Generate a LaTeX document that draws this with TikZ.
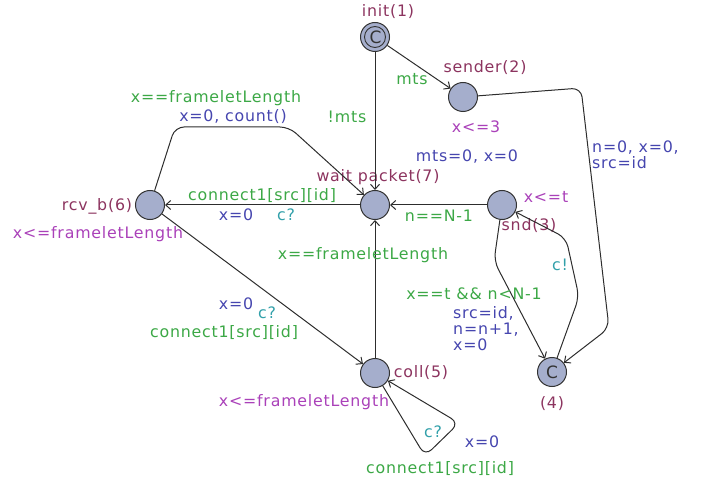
\documentclass[tikz,border=0pt]{standalone}
\usepackage{fontspec}
\setmainfont{DejaVu Sans}[LetterSpace=5]
\usetikzlibrary{arrows.meta}
\definecolor{locname}{RGB}{140,52,95}
\definecolor{inv}{RGB}{170,65,185}
\definecolor{guard}{RGB}{60,168,70}
\definecolor{upd}{RGB}{70,70,175}
\definecolor{syn}{RGB}{50,160,170}
\definecolor{locfill}{RGB}{165,174,204}
\definecolor{edgec}{RGB}{45,45,45}
\tikzset{
  loc/.style={circle,draw=black!80,line width=1pt,fill=locfill,minimum size=29pt,inner sep=0pt},
  edge/.style={draw=edgec,line width=1pt,-{Straight Barb[length=5pt,width=9pt]},rounded corners=9pt},
  txt/.style={font=\fontsize{15.8}{17}\selectfont,inner sep=0pt},
  nm/.style={txt,text=locname},
  iv/.style={txt,text=inv},
  gd/.style={txt,text=guard},
  up/.style={txt,text=upd},
  sy/.style={txt,text=syn},
}
\begin{document}
\begin{tikzpicture}[x=1pt,y=-1pt]
\useasboundingbox (0,0) rectangle (704,481);
% locations
\node[loc] (init) at (375,37) {};
\draw[black!80,line width=0.9pt] (init.center) circle (10.5pt);
\node[txt,font=\fontsize{17}{17}\selectfont,text=black!80] at (375.5,37.5) {C};
\node[loc] (sender) at (463,97) {};
\node[loc] (wait) at (375,205) {};
\node[loc] (snd) at (502,205) {};
\node[loc] (rcv) at (150,205) {};
\node[loc] (coll) at (375,373) {};
\node[loc,font=\fontsize{17}{17}\selectfont,text=black!80] (n4) at (552,372) {C};
% names and invariants
\node[nm] (lbinit) at (388,12) {init(1)};
\node[nm] (lbsender) at (485,68) {sender(2)};
\node[iv] (ivsender) at (476,127) {x<=3};
\node[nm] (lbwait) at (378,177) {wait packet(7)};
\node[iv] (ivsnd) at (546,197) {x<=t};
\node[nm] (lbsnd) at (529,226) {snd(3)};
\node[nm] (lbrcv) at (97,206) {rcv\_b(6)};
\node[iv] (ivrcv) at (98,234) {x<=frameletLength};
\node[nm] (lbcoll) at (421,373) {coll(5)};
\node[iv] (ivcoll) at (304,402) {x<=frameletLength};
\node[nm] (lb4) at (552,404) {(4)};
% edges
\draw[edge] (init) -- (sender);
\node[gd] at (412,79) {mts};
\draw[edge] (init) -- (wait);
\node[gd] at (347,117) {!mts};
\draw[edge] (sender) -- (581,88) -- (609,328) -- (n4);
\node[up,anchor=west] at (592,148) {n=0, x=0,};
\node[up,anchor=west] at (592,163) {src=id};
\draw[edge] (snd) -- (wait);
\node[gd] at (439,216) {n==N-1};
\node[up] at (467,157) {mts=0, x=0};
\draw[edge] (wait) -- (rcv);
\node[gd] at (262,196) {connect1[src][id]};
\node[up] at (236,215) {x=0};
\node[sy] at (286,215) {c?};
\draw[edge] (rcv) -- (175,127) -- (289,127) -- (wait);
\node[gd] at (216,98) {x==frameletLength};
\node[up] at (233,117) {x=0, count()};
\draw[edge] (rcv) -- (coll);
\node[up] at (236,304) {x=0};
\node[sy] at (267,313) {c?};
\node[gd] at (224,333) {connect1[src][id]};
\draw[edge] (coll) -- (wait);
\node[gd] at (363,255) {x==frameletLength};
\draw[edge] (coll) -- (425,456) -- (459,423) -- (coll);
\node[sy] at (433,432) {c?};
\node[up] at (482,442) {x=0};
\node[gd] at (440,469) {connect1[src][id]};
\draw[edge] (snd) -- (494,261) -- (n4);
\node[gd] at (474,294) {x==t \&\& n<N-1};
\node[up,anchor=west] at (453,313) {src=id,};
\node[up,anchor=west] at (453,330) {n=n+1,};
\node[up,anchor=west] at (453,345) {x=0};
\draw[edge] (n4) -- (579,297) -- (566,238) -- (snd);
\node[sy] at (560,265) {c!};
\end{tikzpicture}
\end{document}
